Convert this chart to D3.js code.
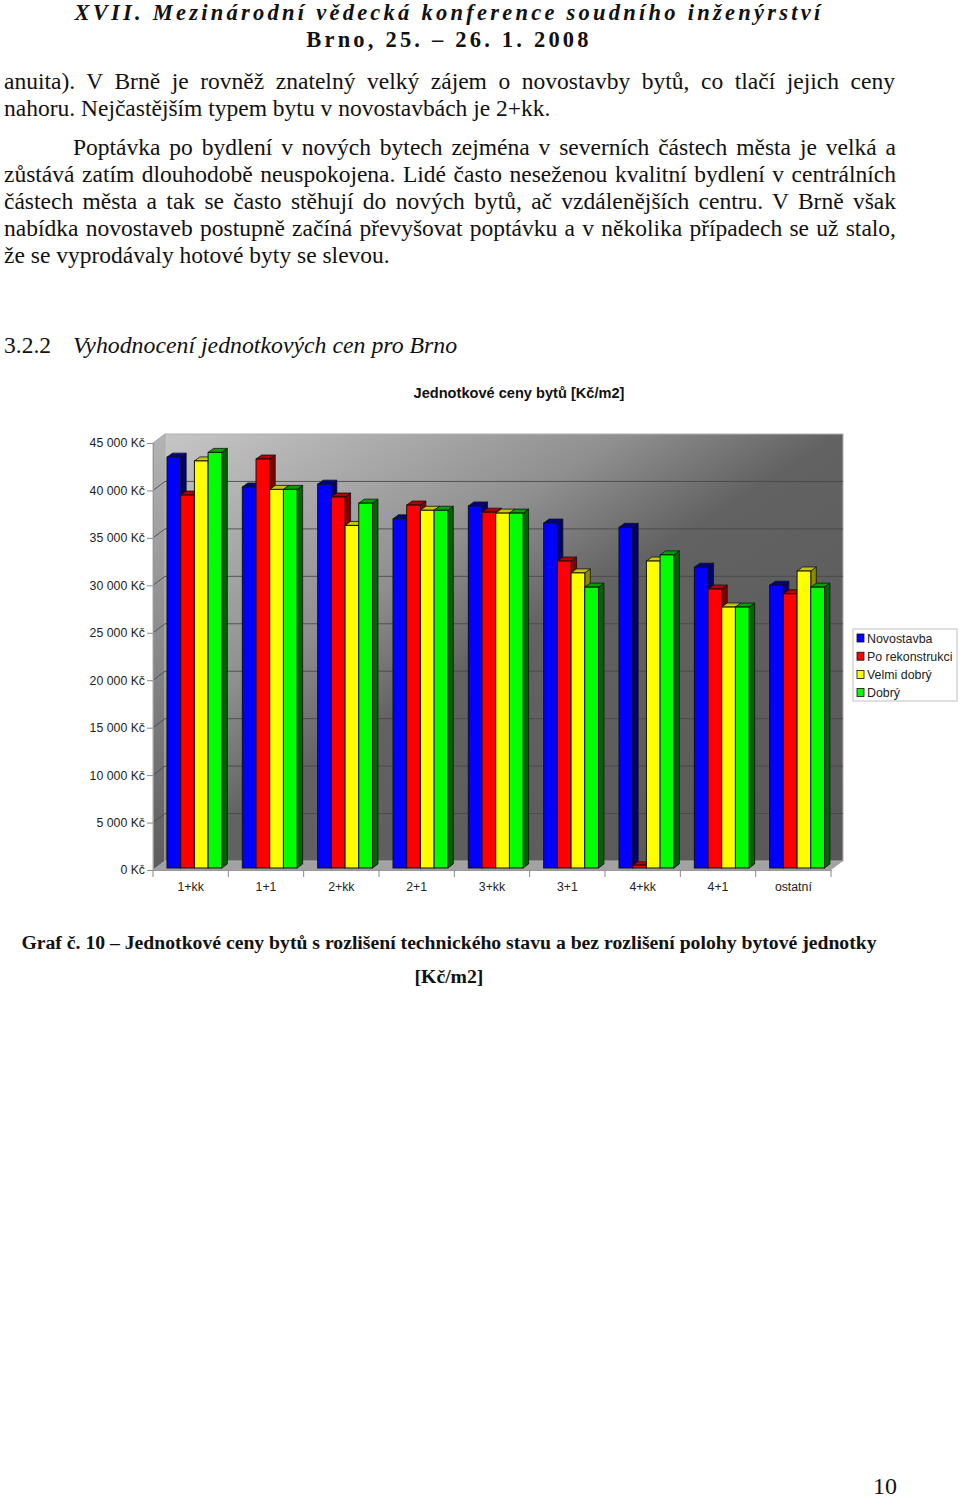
<!DOCTYPE html>
<html><head><meta charset="utf-8">
<script src="https://cdn.jsdelivr.net/npm/d3@7"></script>
<style>html,body{margin:0;padding:0;background:#fff}svg{display:block}</style></head>
<body><svg id="c" width="960" height="1500"></svg>
<script>
const categories=["1+kk","1+1","2+kk","2+1","3+kk","3+1","4+kk","4+1","ostatní"];
const seriesNames=["Novostavba","Po rekonstrukci","Velmi dobrý","Dobrý"];
const novostavba=[43300,40150,40450,36800,38150,36350,35900,31700,29800];
const poRekonstrukci=[39300,43100,39100,38250,37500,32350,300,29400,28900];
const velmiDobry=[42900,39900,36100,37700,37400,31100,32350,27500,31300];
const dobry=[43800,39900,38450,37700,37400,29600,33000,27500,29600];
const yTicks=[0,5000,10000,15000,20000,25000,30000,35000,40000,45000];
const colors=["#0000ff","#ff0000","#ffff00","#00ff00"];
const darkTop=["#000090","#b00000","#c8c800","#00a000"];
const darkSide=["#00006e","#800000","#8c8c00","#006400"];
const series=[novostavba,poRekonstrukci,velmiDobry,dobry];
const bodyLines=[
 [4,89,"anuita). V Brně je rovněž znatelný velký zájem o novostavby bytů, co tlačí jejich ceny",895],
 [4,116,"nahoru. Nejčastějším typem bytu v novostavbách je 2+kk.",0],
 [73,155,"Poptávka po bydlení v nových bytech zejména v severních částech města je velká a",896],
 [4,182,"zůstává zatím dlouhodobě neuspokojena. Lidé často neseženou kvalitní bydlení v centrálních",896],
 [4,209,"částech města a tak se často stěhují do nových bytů, ač vzdálenějších centru. V Brně však",896],
 [4,236,"nabídka novostaveb postupně začíná převyšovat poptávku a v několika případech se už stalo,",896],
 [4,263,"že se vyprodávaly hotové byty se slevou.",0]
];
const svg=d3.select("#c");
const serif="'Liberation Serif','Times New Roman',serif", sans="'Liberation Sans',Arial,sans-serif";
svg.append("text").attr("x",449).attr("y",20).attr("text-anchor","middle").attr("font-family",serif).attr("font-size",22.5).attr("font-weight","bold").attr("font-style","italic").attr("letter-spacing",3.25).attr("fill","#111").text("XVII. Mezinárodní vědecká konference soudního inženýrství");
svg.append("text").attr("x",449).attr("y",47).attr("text-anchor","middle").attr("font-family",serif).attr("font-size",22.5).attr("font-weight","bold").attr("letter-spacing",3.2).attr("fill","#111").text("Brno, 25. – 26. 1. 2008");
bodyLines.forEach(([x,y,s,right])=>{
 const t=svg.append("text").attr("x",x).attr("y",y).attr("font-family",serif).attr("font-size",23.5).attr("fill","#111").text(s);
 if(right){const w=t.node().getComputedTextLength();const n=s.split(" ").length-1;t.attr("word-spacing",(right-x-w)/n);}
});
svg.append("text").attr("x",4).attr("y",353).attr("font-family",serif).attr("font-size",23.5).attr("fill","#111").text("3.2.2");
svg.append("text").attr("x",73).attr("y",353).attr("font-family",serif).attr("font-size",23.8).attr("font-style","italic").attr("fill","#111").text("Vyhodnocení jednotkových cen pro Brno");
svg.append("text").attr("x",519).attr("y",398).attr("text-anchor","middle").attr("font-family",sans).attr("font-size",14.6).attr("font-weight","bold").attr("fill","#111").text("Jednotkové ceny bytů [Kč/m2]");

// scales
const y=d3.scaleLinear().domain([0,45000]).range([870,443]);
const x=d3.scaleBand().domain(categories).range([153,831]).paddingInner(0).paddingOuter(0);
const dx=12,dy=9; // wall depth
const defs=svg.append("defs");
const g1=defs.append("linearGradient").attr("id","wall").attr("x1","0%").attr("y1","0%").attr("x2","100%").attr("y2","100%");
[[0,"#c6c6c6"],[34,"#8f8f8f"],[50,"#626262"],[100,"#585858"]].forEach(([o,c])=>g1.append("stop").attr("offset",o+"%").attr("stop-color",c));
const g2=defs.append("linearGradient").attr("id","side").attr("x1","0%").attr("y1","0%").attr("x2","0%").attr("y2","100%");
g2.append("stop").attr("offset","0%").attr("stop-color","#b4b4b4");
g2.append("stop").attr("offset","100%").attr("stop-color","#5c5c5c");
const yTop=y(45000),yBot=y(0);
// side wall, floor, back wall
svg.append("path").attr("d",`M153,${yTop}L${153+dx},${yTop-dy}V${yBot-dy}L153,${yBot}Z`).attr("fill","url(#side)").attr("stroke","#a8a8a8");
svg.append("path").attr("d",`M153,${yBot}L${153+dx},${yBot-dy}H${831+dx}L831,${yBot}Z`).attr("fill","#a2a2a2");
svg.append("rect").attr("x",153+dx).attr("y",yTop-dy).attr("width",831-153).attr("height",yBot-yTop).attr("fill","url(#wall)").attr("stroke","#b0b0b0").attr("stroke-width",1);
// gridlines on wall and side wall
yTicks.slice(1,-1).forEach(v=>{
 svg.append("path").attr("d",`M153,${y(v)}L${153+dx},${y(v)-dy}H${831+dx}`).attr("fill","none").attr("stroke","#474747").attr("stroke-opacity",.85);
});
// axes
const yAxis=d3.axisLeft(y).tickValues(yTicks).tickSize(6).tickPadding(2).tickFormat(d=>d3.format(",")(d).replace(/,/g," ")+" Kč");
const ga=svg.append("g").attr("transform","translate(153,0)").call(yAxis);
const xAxis=d3.axisBottom(x).tickSize(0).tickPadding(12);
const gx=svg.append("g").attr("transform",`translate(0,${yBot})`).call(xAxis);
[ga,gx].forEach(g=>{g.selectAll("text").attr("font-family",sans).attr("font-size",12.3).attr("fill","#222");g.selectAll("line").attr("stroke","#888");g.select(".domain").attr("stroke","#999");});
gx.selectAll(".edge").data(categories.concat("end")).enter().append("line").attr("class","edge")
 .attr("x1",(d,i)=>i<categories.length?x(d):831).attr("x2",(d,i)=>i<categories.length?x(d):831).attr("y1",0).attr("y2",7).attr("stroke","#888");
// bars
const bw=13.7,ox=14,bx=5.5,by=4,base=2;
categories.forEach((c,i)=>{
 const g=svg.append("g");
 series.forEach((s,k)=>{
  const x0=x(c)+ox+k*bw, x1=x0+bw, yt=y(s[i])-base, yb=yBot-base;
  g.append("path").attr("d",`M${x1},${yt}L${x1+bx},${yt-by}V${yb-by}L${x1},${yb}Z`).attr("fill",darkSide[k]).attr("stroke","#111").attr("stroke-width",.8);
  g.append("path").attr("d",`M${x0},${yt}L${x0+bx},${yt-by}H${x1+bx}L${x1},${yt}Z`).attr("fill",darkTop[k]).attr("stroke","#111").attr("stroke-width",.8);
  g.append("rect").attr("x",x0).attr("y",yt).attr("width",bw).attr("height",yb-yt).attr("fill",colors[k]).attr("stroke","#111").attr("stroke-width",1);
 });
});
// legend
const lx=853,ly=629;
svg.append("rect").attr("x",lx).attr("y",ly).attr("width",104).attr("height",72).attr("fill","#fff").attr("stroke","#c0c0c0");
seriesNames.forEach((n,k)=>{
 const yy=ly+9+k*18.2;
 svg.append("rect").attr("x",lx+4).attr("y",yy-4).attr("width",7).attr("height",8).attr("fill",colors[k]).attr("stroke","#111").attr("stroke-width",.8);
 svg.append("text").attr("x",lx+14).attr("y",yy+4.5).attr("font-family",sans).attr("font-size",12.4).attr("fill","#222").text(n);
});
// caption
svg.append("text").attr("x",449).attr("y",949).attr("text-anchor","middle").attr("font-family",serif).attr("font-size",19.7).attr("font-weight","bold").attr("fill","#111").text("Graf č. 10 – Jednotkové ceny bytů s rozlišení technického stavu a bez rozlišení polohy bytové jednotky");
svg.append("text").attr("x",449).attr("y",983).attr("text-anchor","middle").attr("font-family",serif).attr("font-size",19.7).attr("font-weight","bold").attr("fill","#111").text("[Kč/m2]");
svg.append("text").attr("x",873).attr("y",1494).attr("font-family",serif).attr("font-size",24).attr("fill","#111").text("10");
</script></body></html>
